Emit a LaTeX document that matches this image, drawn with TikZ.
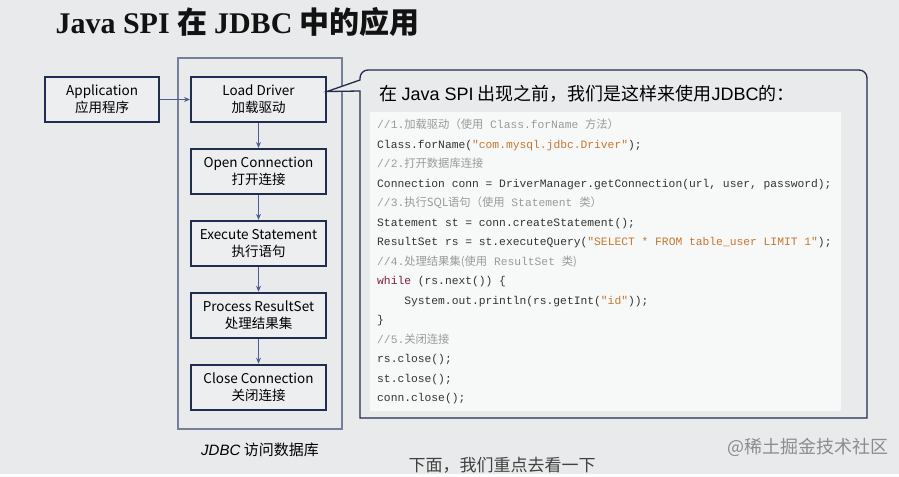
\documentclass[tikz,border=0pt]{standalone}
\usepackage{fontspec}
\setmainfont{Noto Sans CJK SC}
\newfontfamily\cjk{Noto Sans CJK SC}
\newfontfamily\titlefont{Liberation Serif}
\newfontfamily\latinsans{Liberation Sans}
\newfontfamily\codefont{Liberation Mono}
\usepackage{tikz}
\usetikzlibrary{positioning, arrows.meta, calc}

\definecolor{pagebg}{HTML}{E8EAEB}
\definecolor{boxfill}{HTML}{ECEEEF}
\definecolor{boxline}{HTML}{1F2D4F}
\definecolor{flowline}{HTML}{4A5F91}
\definecolor{groupline}{HTML}{76809C}
\definecolor{calloutline}{HTML}{232B4A}
\definecolor{codebg}{HTML}{F7F8F8}
\definecolor{codetxt}{HTML}{333333}
\definecolor{cmt}{HTML}{9A9A9A}
\definecolor{str}{HTML}{C8762E}
\definecolor{kw}{HTML}{7A1F3D}

\newcommand{\zh}[1]{{\cjk #1}}
\newcommand{\cmtline}[1]{\textcolor{cmt}{#1}}
\newcommand{\strlit}[1]{\textcolor{str}{#1}}

\begin{document}
\begin{tikzpicture}[x=1pt, y=-1pt,
  font=\fontsize{13.5}{17}\selectfont,
  stepbox/.style={draw=boxline, line width=1.9pt, fill=boxfill,
    minimum width=135pt, minimum height=45pt, inner sep=2pt, align=center},
  flow/.style={draw=flowline, line width=0.9pt, -{Stealth[length=6pt, width=5pt]}},
  groupframe/.style={draw=groupline, line width=1.3pt},
  callout/.style={draw=calloutline, line width=1.3pt, fill=pagebg},
  codeblock/.style={fill=codebg, text=codetxt, inner sep=7pt, align=left,
    text width=457pt, minimum height=294pt,
    font=\codefont\fontsize{11.3}{19.5}\selectfont},
]
  \fill[pagebg] (0,0) rectangle (899,474);

  % title
  \node[anchor=base west, text=black!93, font=\fontsize{30}{34}\selectfont\bfseries] (title) at (52,34)
    {\titlefont Java SPI \cjk 在 \titlefont JDBC \cjk 中的应用};

  % JDBC group
  \draw[groupframe] (178,58) rectangle (342,429);
  \node[font=\fontsize{15}{18}\selectfont] (grouplabel) at (260,450) {{\latinsans\itshape JDBC} 访问数据库};

  \node[stepbox] (load) at (258.5,99.5) {Load Driver\\加载驱动};
  \node[stepbox, below=25pt of load]  (open)    {Open Connection\\打开连接};
  \node[stepbox, below=25pt of open]  (exec)    {Execute Statement\\执行语句};
  \node[stepbox, below=25pt of exec]  (process) {Process ResultSet\\处理结果集};
  \node[stepbox, below=25pt of process] (close) {Close Connection\\关闭连接};
  \node[stepbox, minimum width=114pt, left=30pt of load] (app) {Application\\应用程序};

  \draw[flow] (app) -- (load);
  \draw[flow] (load) -- (open);
  \draw[flow] (open) -- (exec);
  \draw[flow] (exec) -- (process);
  \draw[flow] (process) -- (close);

  % callout with the old code
  \draw[callout] ($(load.north east)!0.33!(load.south east)$) -- (360,80)
    [rounded corners=8pt] -- (360,70) -- (867,70) -- (867,120)
    [sharp corners] -- (867,418) -- (360,418) -- (360,91) -- cycle;
  \node[anchor=base west, font=\fontsize{18}{22}\selectfont] (heading) at (376,100)
    {在 {\latinsans Java SPI} 出现之前，我们是这样来使用{\latinsans JDBC}的：};

  \node[codeblock, anchor=north west] (code) at (370,112) {%
    \spaceskip=0.6em\relax\xspaceskip=0.6em\relax
    \cmtline{//1.\zh{加载驱动（使用} Class.forName \zh{方法）}}\\
    Class.forName(\strlit{"com.mysql.jdbc.Driver"});\\
    \cmtline{//2.\zh{打开数据库连接}}\\
    Connection conn = DriverManager.getConnection(url, user, password);\\
    \cmtline{//3.\zh{执行SQL语句（使用} Statement \zh{类）}}\\
    Statement st = conn.createStatement();\\
    ResultSet rs = st.executeQuery(\strlit{"SELECT * FROM table\_user LIMIT 1"});\\
    \cmtline{//4.\zh{处理结果集(使用} ResultSet \zh{类)}}\\
    \textcolor{kw}{while} (rs.next()) \{\\
    \hspace*{27.1pt}System.out.println(rs.getInt(\strlit{"id"}));\\
    \}\\
    \cmtline{//5.\zh{关闭连接}}\\
    rs.close();\\
    st.close();\\
    conn.close();};

  \node[text=black!75, font=\fontsize{17}{20}\selectfont] (note) at (502,465) {下面，我们重点去看一下};
  \node[text=black!45, font=\fontsize{18}{21}\selectfont, anchor=east] (mark) at (892,447) {@稀土掘金技术社区};
\end{tikzpicture}
\end{document}
